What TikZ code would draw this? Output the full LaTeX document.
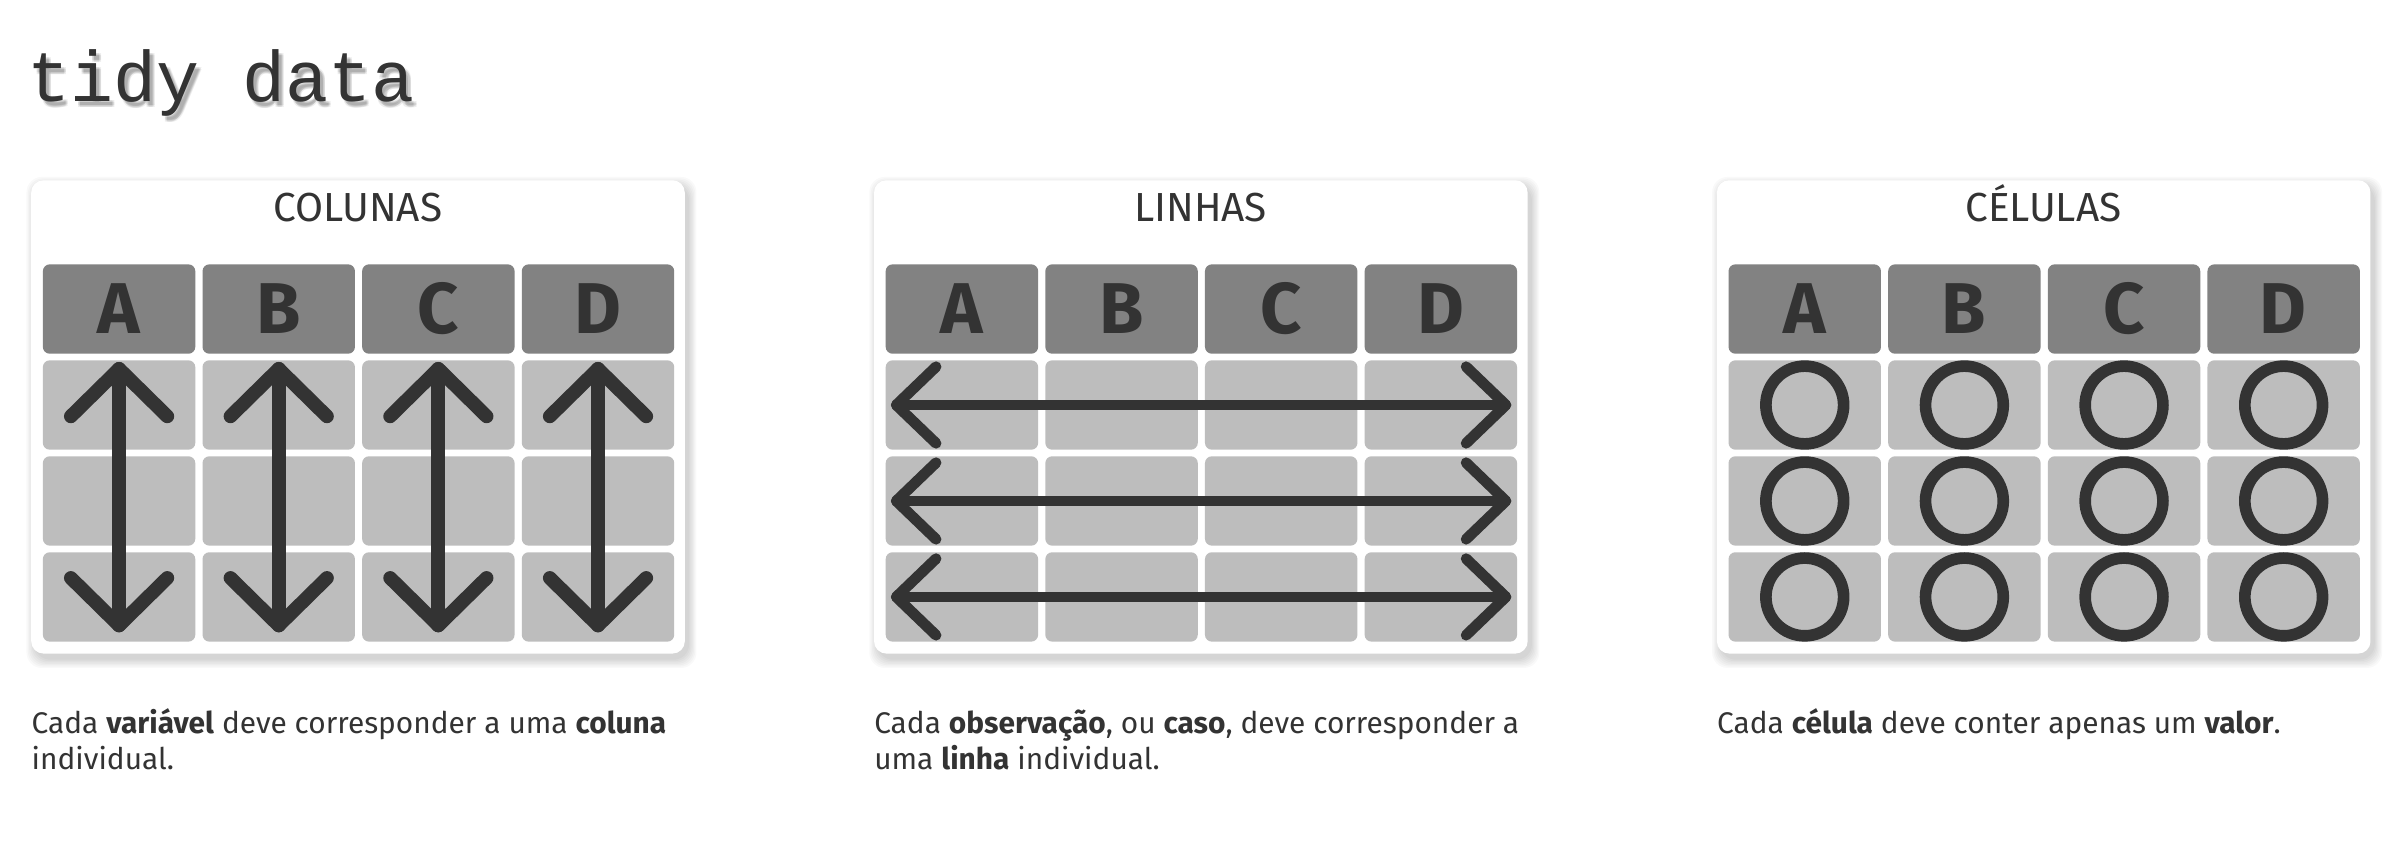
\documentclass[tikz,border=0pt]{standalone}
\usepackage{fontspec}
\setmainfont{Fira Sans}
\newfontfamily\titlemono{Liberation Mono}
\usetikzlibrary{calc}
\definecolor{ink}{HTML}{333333}
\definecolor{headgray}{HTML}{828282}
\definecolor{cellgray}{HTML}{BDBDBD}
\tikzset{
  card/.style={fill=white, rounded corners=8pt, inner sep=0, anchor=north west,
    minimum width=427pt, minimum height=309.2pt},
  headcell/.style={fill=headgray, rounded corners=4.5pt, inner sep=0, anchor=north west,
    minimum width=99.6pt, minimum height=58.4pt},
  bodycell/.style={fill=cellgray, rounded corners=4.5pt, inner sep=0, anchor=north west,
    minimum width=99.6pt, minimum height=58.4pt},
  colarrow/.style={draw=ink, line width=9pt, line cap=round, line join=round},
  rowarrow/.style={draw=ink, line width=7pt, line cap=round, line join=round},
  ring/.style={draw=ink, line width=7.6pt},
  headletter/.style={font=\fontsize{47}{47}\selectfont\bfseries, text=ink, anchor=base, inner sep=0},
  paneltitle/.style={font=\fontsize{26.5}{26.5}\selectfont, text=ink, anchor=base, inner sep=0},
  captext/.style={font=\fontsize{19.5}{24}\selectfont, text=ink, anchor=base west, inner sep=0},
  titletext/.style={font=\fontsize{46.8}{46.8}\selectfont\titlemono, anchor=base west, inner sep=0},
}
\begin{document}
\begin{tikzpicture}[x=1pt,y=-1pt]
\fill[white] (0,0) rectangle (1568,548.8);
\useasboundingbox (0,0) rectangle (1568,548.8);

% title with soft shadow
\foreach \dx/\dy [count=\i] in {1.5/2.5,3/2.5,1.5/4,3/4,2.2/3.2}{
  \node[titletext, text=black, opacity=0.07] (tshadow\i) at (18+\dx,66.4+\dy) {tidy data};
}
\node[titletext, text=ink] (title) at (18,66.4) {tidy data};

% panels
\foreach \p/\name in {0/COLUNAS,1/LINHAS,2/CÉLULAS}{
  \pgfmathsetmacro{\X}{20.2+550.65*\p}
  \foreach \e in {0,...,6}{
    \fill[black, opacity=0.024, rounded corners=10pt]
      (\X+2.5-\e*0.9, 121-\e*0.9) rectangle (\X+430-\e*0.1+\e*0.9, 431+\e*0.9);
  }
  \node[card] (card\p) at (\X,117.6) {};
  \node[paneltitle] (ptitle\p) at (\X+213.5,144.8) {\name};
  \foreach \j/\L in {0/A,1/B,2/C,3/D}{
    \pgfmathsetmacro{\cx}{\X+7.6+104.3*\j}
    \node[headcell] (h-\p-\j) at (\cx,172.5) {};
    \node[headletter] (l-\p-\j) at (\cx+49.8,217.7) {\L};
    \foreach \k in {1,2,3}{
      \pgfmathsetmacro{\cy}{172.5+62.7*\k}
      \node[bodycell] (b-\p-\k-\j) at (\cx,\cy) {};
    }
  }
}

% COLUNAS: vertical double arrows
\foreach \j in {0,...,3}{
  \coordinate (ct\j) at ($(b-0-1-\j.north)+(0,5.8)$);
  \coordinate (cb\j) at ($(b-0-3-\j.south)+(0,-10.8)$);
  \draw[colarrow] (ct\j) -- (cb\j);
  \draw[colarrow] ([shift={(-31.5,31)}]ct\j) -- (ct\j) -- ([shift={(31.5,31)}]ct\j);
  \draw[colarrow] ([shift={(-31.5,-31)}]cb\j) -- (cb\j) -- ([shift={(31.5,-31)}]cb\j);
}

% LINHAS: horizontal double arrows
\foreach \k in {1,2,3}{
  \coordinate (rl\k) at ($(b-1-\k-0.west)+(7.1,0)$);
  \coordinate (rr\k) at ($(b-1-\k-3.east)+(-7.5,0)$);
  \draw[rowarrow] (rl\k) -- (rr\k);
  \draw[rowarrow] ([shift={(26,-25)}]rl\k) -- (rl\k) -- ([shift={(26,25)}]rl\k);
  \draw[rowarrow] ([shift={(-26,-25)}]rr\k) -- (rr\k) -- ([shift={(-26,25)}]rr\k);
}

% CÉLULAS: one ring per cell
\foreach \k in {1,2,3}{
  \foreach \j in {0,...,3}{
    \draw[ring] (b-2-\k-\j.center) circle[radius=25.4];
  }
}

% captions
\node[captext] (cap0a) at (20.5,479) {Cada \textbf{variável} deve corresponder a uma \textbf{coluna}};
\node[captext] (cap0b) at (20.5,503) {individual.};
\node[captext] (cap1a) at (571,479) {Cada \textbf{observação}, ou \textbf{caso}, deve corresponder a};
\node[captext] (cap1b) at (571,503) {uma \textbf{linha} individual.};
\node[captext] (cap2a) at (1121.7,479) {Cada \textbf{célula} deve conter apenas um \textbf{valor}.};
\end{tikzpicture}
\end{document}
